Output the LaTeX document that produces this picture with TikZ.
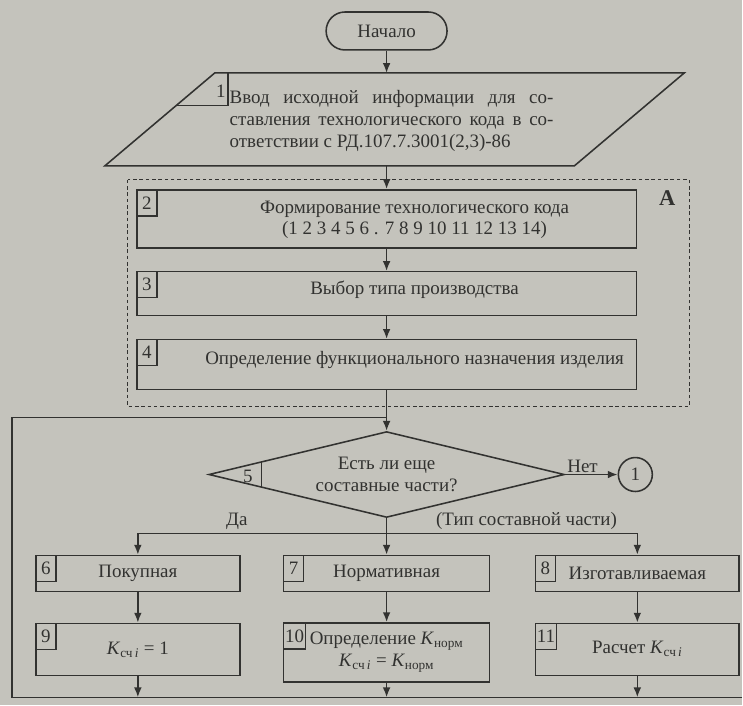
\documentclass[tikz,border=0pt]{standalone}
\usepackage{fontspec}
\setmainfont{Liberation Serif}
\usetikzlibrary{shapes.geometric,calc,arrows.meta}
\definecolor{paper}{RGB}{196,195,188}
\definecolor{ink}{RGB}{50,50,48}
\newcommand{\Ksch}{\textit{K}\textsubscript{сч\,\textit{i}}}
\newcommand{\Knorm}{\textit{K}\textsubscript{норм}}

\begin{document}
\begin{tikzpicture}[x=0.025cm, y=-0.025cm, line width=1.1pt, color=ink,
    font=\fontsize{13.5}{15.5}\selectfont,
    arr/.style={-{Latex[length=7pt, width=5.5pt]}},
    procbox/.style={draw, rectangle, inner sep=0pt, align=center},
    numbox/.style={draw, rectangle, anchor=north west, minimum width=20*\px, minimum height=26*\px, inner sep=1pt},
    txt/.style={align=center, inner sep=0pt}]

    % constants
    \def\px{0.025cm}
    \def\xc{387}

    % paper
    \fill[paper] (0,0) rectangle (743,706);

    % start
    \node[draw, rounded corners=0.47cm, minimum width=121*\px, minimum height=38*\px] (start) at (\xc,31) {Начало};

    % input data (parallelogram)
    \coordinate (pTL) at (215,73);
    \coordinate (pTR) at (685,73);
    \coordinate (pBR) at (575,166);
    \coordinate (pBL) at (105,166);
    \coordinate (pN) at (\xc,73);
    \coordinate (pS) at (\xc,166);
    \coordinate (n1c) at (228,73);
    \draw (pTL) -- (pTR) -- (pBR) -- (pBL) -- cycle;
    \draw ($(pTL)!0.35!(pBL)$) -| (n1c);
    \node (n1) at (221,91) {1};
    \node[align=left, inner sep=0pt] (intext) at (392,121)
        {\makebox[8.1cm][s]{Ввод исходной информации для со-}\\
         \makebox[8.1cm][s]{ставления технологического кода в со-}\\
         ответствии с РД.107.7.3001(2,3)-86};

    \draw[arr] (start.south) -- (pN);

    % block A
    \draw[line width=0.8pt, dash pattern=on 2.5pt off 2pt] (128,180) rectangle (690,407);
    \node[font=\bfseries\fontsize{16}{18}\selectfont] (lblA) at (668,198) {А};

    \node[procbox, minimum width=500*\px, minimum height=58*\px] (b2) at (\xc,219) {};
    \node[txt] (t2) at ($(b2)+(28,1)$) {Формирование технологического кода\\(1 2 3 4 5 6 . 7 8 9 10 11 12 13 14)};
    \node[numbox] (n2) at (b2.north west) {2};

    \node[procbox, minimum width=500*\px, minimum height=44*\px] (b3) at (\xc,294) {};
    \node[txt] (t3) at ($(b3)+(28,-4)$) {Выбор типа производства};
    \node[numbox] (n3) at (b3.north west) {3};

    \node[procbox, minimum width=500*\px, minimum height=50*\px] (b4) at (\xc,365) {};
    \node[txt] (t4) at ($(b4)+(28,-5)$) {Определение функционального назначения изделия};
    \node[numbox] (n4) at (b4.north west) {4};

    \draw[arr] (pS) -- (b2.north);
    \draw[arr] (b2.south) -- (b3.north);
    \draw[arr] (b3.south) -- (b4.north);

    % decision
    \node[diamond, draw, aspect=4.14, minimum width=356*\px, minimum height=86*\px, inner sep=0pt, align=center] (d5) at (\xc,475)
        {Есть ли еще\\составные части?};
    \node (n5) at (248,477) {5};
    \draw ($(d5.west)!0.30!(d5.north)$) -- ($(d5.west)!0.30!(d5.south)$);
    \draw[arr] (b4.south) -- (d5.north);

    \node[circle, draw, minimum size=34*\px, inner sep=0pt] (c1) at (636,475) {1};
    \draw[arr] (d5.east) -- (c1);
    \node[above right, inner sep=1pt] (lNo) at (d5.east) {Нет};

    % kinds of parts
    \node[procbox, minimum width=204*\px, minimum height=36*\px] (b6) at (138,574) {Покупная};
    \node[procbox, minimum width=206*\px, minimum height=36*\px] (b7) at (\xc,574) {Нормативная};
    \node[procbox, minimum width=204*\px, minimum height=36*\px] (b8) at (638,574) {Изготавливаемая};
    \node[numbox] (n6) at (b6.north west) {6};
    \node[numbox] (n7) at (b7.north west) {7};
    \node[numbox] (n8) at (b8.north west) {8};

    \coordinate (br) at (\xc,534);
    \coordinate (brL) at (138,534);
    \coordinate (brR) at (638,534);
    \draw (d5.south) -- (br);
    \draw (brL) -- (brR);
    \draw[arr] (brL) -- (b6.north);
    \draw[arr] (br) -- (b7.north);
    \draw[arr] (brR) -- (b8.north);
    \node[above, inner sep=2pt] (lYes) at (237,534) {Да};
    \node[above, inner sep=2pt] (lKind) at (527,534) {(Тип составной части)};

    % coefficients
    \node[procbox, minimum width=204*\px, minimum height=52*\px] (b9) at (138,650) {\Ksch\ = 1};
    \node[procbox, minimum width=206*\px, minimum height=59*\px] (b10) at (\xc,653) {Определение \Knorm\\\Ksch\ = \Knorm};
    \node[procbox, minimum width=204*\px, minimum height=52*\px] (b11) at (638,650) {Расчет \Ksch};
    \node[numbox] (n9) at (b9.north west) {9};
    \node[numbox] (n10) at (b10.north west) {10};
    \node[numbox] (n11) at (b11.north west) {11};

    \draw[arr] (b6.south) -- (b9.north);
    \draw[arr] (b7.south) -- (b10.north);
    \draw[arr] (b8.south) -- (b11.north);

    % return line
    \coordinate (jR) at (743,698);
    \coordinate (jL) at (12,698);
    \coordinate (loopTop) at (\xc,418);
    \draw (jR) -- (jL) |- (loopTop);
    \draw[arr] (b9.south) -- (b9.south |- jL);
    \draw[arr] (b10.south) -- (b10.south |- jL);
    \draw[arr] (b11.south) -- (b11.south |- jL);

\end{tikzpicture}
\end{document}
